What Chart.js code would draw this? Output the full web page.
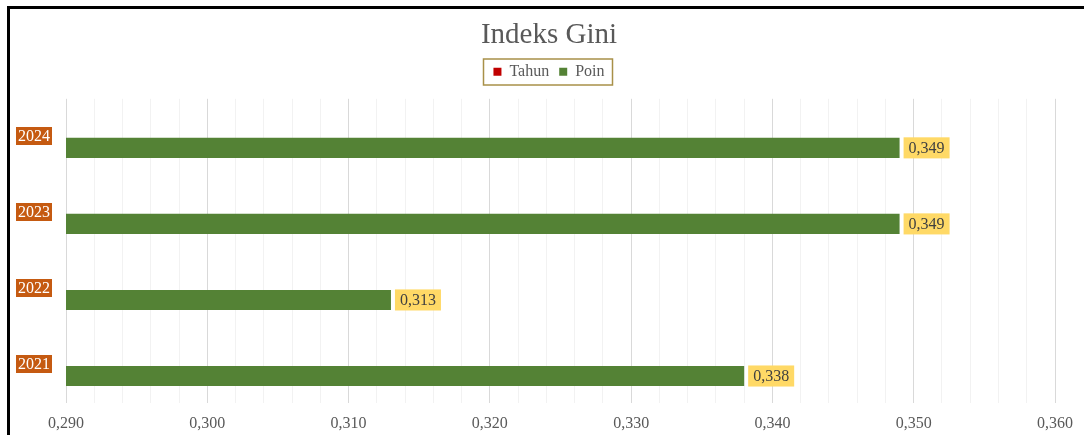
<!DOCTYPE html>
<html>
<head>
<meta charset="utf-8">
<script src="https://cdn.jsdelivr.net/npm/chart.js@4"></script>
<style>
    body { margin: 0; overflow: hidden; background: #fff; }
    #wrap { position: relative; width: 1084px; height: 435px; }
    #frame {
        position: absolute; left: 7px; top: 6px; width: 2000px; height: 2000px;
        border: 3px solid #000; pointer-events: none;
    }
</style>
</head>
<body>
<div id="wrap">
    <canvas id="giniChart"></canvas>
    <div id="frame"></div>
</div>
<script>
// data
var years = ["2021", "2022", "2023", "2024"];
var poin = [0.338, 0.313, 0.349, 0.349];
// "Tahun" series has no plotted bars, only legend entry
var tahun = [null, null, null, null];
var xMin = 0.29, xMax = 0.36, xStep = 0.002;

var serif = "'Liberation Serif', 'DejaVu Serif', serif";

function fmt(v) {
    return v.toFixed(3).replace(".", ",");
}
function isMajor(v) {
    return Math.round(v * 1000) % 10 === 0;
}

// yellow value boxes next to the Poin bars
var valueLabels = {
    id: "valueLabels",
    afterDatasetsDraw: function (chart) {
        var ctx = chart.ctx;
        var meta = chart.getDatasetMeta(1);
        ctx.save();
        ctx.font = "16px " + serif;
        meta.data.forEach(function (bar, i) {
            var txt = fmt(poin[i]);
            var w = ctx.measureText(txt).width + 10;
            var h = bar.height + 1;
            var x = bar.x + 4;
            var y = bar.y - h / 2;
            ctx.fillStyle = "#FFD966";
            ctx.fillRect(x, y, w, h);
            ctx.fillStyle = "#404040";
            ctx.textAlign = "center";
            ctx.textBaseline = "middle";
            ctx.fillText(txt, x + w / 2, bar.y + 1);
        });
        ctx.restore();
    },
};

// orange year labels left of the plot (category scale positions)
var yearLabels = {
    id: "yearLabels",
    afterDraw: function (chart) {
        var ctx = chart.ctx;
        var yScale = chart.scales.y;
        var right = chart.chartArea.left - 14;
        ctx.save();
        ctx.font = "16px " + serif;
        ctx.textAlign = "right";
        ctx.textBaseline = "middle";
        years.forEach(function (yr, i) {
            var yc = yScale.getPixelForValue(i) - 1;
            var w = ctx.measureText(yr).width + 4;
            ctx.fillStyle = "#C55A11";
            ctx.fillRect(right - w, Math.round(yc - 9), w, 18);
            ctx.fillStyle = "#FFFFFF";
            ctx.fillText(yr, right - 2, yc + 1);
        });
        ctx.restore();
    },
};

// border around the legend
var legendBox = {
    id: "legendBox",
    afterDraw: function (chart) {
        var boxes = chart.legend.legendHitBoxes;
        if (!boxes || !boxes.length) return;
        var first = boxes[0], last = boxes[boxes.length - 1];
        var ctx = chart.ctx;
        ctx.save();
        ctx.strokeStyle = "#A89048";
        ctx.lineWidth = 1.5;
        ctx.strokeRect(
            Math.round(first.left) - 9.5,
            Math.round(first.top + first.height / 2) - 13,
            Math.round(last.left + last.width - first.left) + 18,
            26
        );
        ctx.restore();
    },
};

var ctx1 = document.getElementById("giniChart").getContext("2d"),
    myChart = new Chart(ctx1, {
        type: "bar",
        data: {
            labels: years,
            datasets: [
                {
                    label: "Tahun",
                    data: tahun,
                    backgroundColor: "#C00000",
                    borderWidth: 0,
                },
                {
                    label: "Poin",
                    data: poin,
                    backgroundColor: "#548235",
                    borderWidth: 0,
                },
            ],
        },
        options: {
            indexAxis: "y",
            responsive: !0,
            maintainAspectRatio: !1,
            animation: !1,
            categoryPercentage: 0.58,
            barPercentage: 0.91,
            layout: { padding: { left: 41, right: 27, top: 0, bottom: 0 } },
            plugins: {
                title: {
                    display: !0,
                    text: "Indeks Gini",
                    color: "#595959",
                    font: { family: serif, size: 29, weight: "normal" },
                    padding: { top: 18, bottom: 1 },
                },
                // empty spacer below the legend
                subtitle: {
                    display: !0,
                    text: "",
                    font: { size: 9, lineHeight: 1 },
                    padding: 0,
                },
                legend: {
                    position: "top",
                    weight: 1600,
                    labels: {
                        color: "#595959",
                        font: { family: serif, size: 16 },
                        boxWidth: 8,
                        boxHeight: 8,
                        padding: 10,
                    },
                },
                tooltip: { enabled: !1 },
            },
            scales: {
                x: {
                    min: xMin,
                    max: xMax,
                    afterFit: function (scale) {
                        scale.height = 32;
                    },
                    ticks: {
                        stepSize: xStep,
                        autoSkip: !1,
                        maxRotation: 0,
                        padding: 11,
                        color: "#595959",
                        font: { family: serif, size: 16 },
                        callback: function (v) {
                            return isMajor(v) ? fmt(v) : "";
                        },
                    },
                    grid: {
                        drawTicks: !1,
                        color: function (c) {
                            return c.tick && isMajor(c.tick.value) ? "#D9D9D9" : "#F2F2F2";
                        },
                    },
                    border: { display: !1 },
                },
                y: {
                    reverse: !0,
                    afterFit: function (scale) {
                        scale.width = 25;
                    },
                    ticks: { display: !1 },
                    grid: { display: !1 },
                    border: { display: !1 },
                },
            },
        },
        plugins: [valueLabels, yearLabels, legendBox],
    });
</script>
</body>
</html>
